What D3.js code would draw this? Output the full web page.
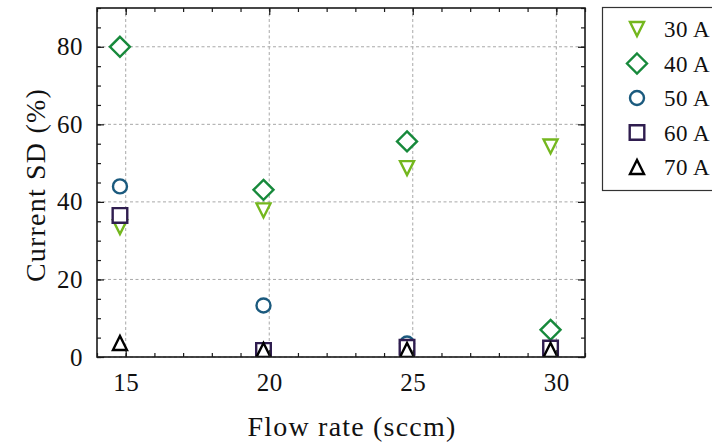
<!DOCTYPE html>
<html><head><meta charset="utf-8">
<script src="https://cdn.jsdelivr.net/npm/d3@7"></script>
<style>
html,body{margin:0;padding:0;background:#fff;}
text{font-family:"Liberation Serif","Times New Roman",serif;}
</style>
</head><body>
<svg id="chart" width="712" height="443"></svg>
<script>
const flowRates = [14.8, 19.8, 24.8, 29.8];
const seriesNames = ["30 A", "40 A", "50 A", "60 A", "70 A"];
const sd30A = [33.5, 37.8, 48.7, 54.3];
const sd40A = [80.0, 43.1, 55.6, 7.0];
const sd50A = [44.0, 13.3, 3.5, 2.0];
const sd60A = [36.5, 1.7, 2.5, 2.3];
const sd70A = [3.6, 1.8, 1.8, 1.8];
const xTicks = [15, 20, 25, 30];
const yTicks = [0, 20, 40, 60, 80];

const seriesValues = [sd30A, sd40A, sd50A, sd60A, sd70A];
const colors = ["#74b71e", "#17893b", "#1b5a7e", "#2f1d4f", "#000000"];
const shapes = ["tridown", "diamond", "circle", "square", "triup"];

const m = {left: 97, top: 8, right: 585, bottom: 357};
const svg = d3.select("#chart");

const x = d3.scaleLinear().domain([14, 31]).range([m.left, m.right]);
const y = d3.scaleLinear().domain([0, 90]).range([m.bottom, m.top]);

const symbolTypes = {
  tridown: {draw(c, s){ const r = s; c.moveTo(-r, -r); c.lineTo(r, -r); c.lineTo(0, r); c.closePath(); }},
  triup: {draw(c, s){ const r = s; c.moveTo(-r, r); c.lineTo(r, r); c.lineTo(0, -r); c.closePath(); }},
  diamond: {draw(c, s){ const r = s; c.moveTo(0, -r); c.lineTo(r, 0); c.lineTo(0, r); c.lineTo(-r, 0); c.closePath(); }},
  square: {draw(c, s){ const r = s; c.rect(-r, -r, 2*r, 2*r); }},
  circle: {draw(c, s){ const r = s; c.moveTo(r, 0); c.arc(0, 0, r, 0, 2*Math.PI); }}
};
const symSize = {tridown: 7, triup: 7, diamond: 10, square: 7.3, circle: 7};

const grid = svg.append("g").attr("stroke", "#a8a8a8").attr("stroke-width", 1).attr("stroke-dasharray", "3,2.5");
grid.selectAll(".gx").data(xTicks).enter().append("line")
  .attr("x1", d => x(d)).attr("x2", d => x(d)).attr("y1", m.top).attr("y2", m.bottom);
grid.selectAll(".gy").data(yTicks).enter().append("line")
  .attr("x1", m.left).attr("x2", m.right).attr("y1", d => y(d)).attr("y2", d => y(d));

svg.append("clipPath").attr("id", "clip").append("rect")
  .attr("x", m.left).attr("y", m.top).attr("width", m.right - m.left).attr("height", m.bottom - m.top);

const pts = svg.append("g").attr("clip-path", "url(#clip)");
seriesValues.forEach((vals, i) => {
  const sym = d3.symbol().type(symbolTypes[shapes[i]]).size(symSize[shapes[i]]);
  pts.append("g").selectAll("path").data(vals.map((v, j) => [flowRates[j], v])).enter()
    .append("path")
    .attr("d", sym)
    .attr("transform", d => `translate(${x(d[0])},${y(d[1])})`)
    .attr("fill", "#fff").attr("stroke", colors[i]).attr("stroke-width", 2.4);
});

const axColor = "#1a1a1a";
const minorX = d3.range(14, 32, 1);
const minorY = d3.range(0, 91, 5);
function addAxis(axisGen, tx, ty, scale, majors, minors, labels) {
  const gMinor = svg.append("g").attr("transform", `translate(${tx},${ty})`)
    .call(axisGen(scale).tickValues(minors).tickSize(-4).tickFormat(""));
  const gMajor = svg.append("g").attr("transform", `translate(${tx},${ty})`)
    .call(axisGen(scale).tickValues(majors).tickSize(-7).tickPadding(labels ? 14 : 0).tickFormat(labels ? d3.format("d") : ""));
  [gMinor, gMajor].forEach(g => {
    g.select(".domain").remove();
    g.selectAll("line").attr("stroke", axColor).attr("stroke-width", 1.2);
  });
  gMajor.selectAll("text").attr("font-size", 25).attr("fill", "#111")
    .attr("letter-spacing", 0.5)
    .style("font-family", "Liberation Serif, serif");
  return gMajor;
}
const gxB = addAxis(d3.axisBottom, 0, m.bottom, x, xTicks, minorX, true);
gxB.selectAll("text").attr("dy", "0.71em").attr("y", 16);
addAxis(d3.axisTop, 0, m.top, x, xTicks, minorX, false);
const gyL = addAxis(d3.axisLeft, m.left, 0, y, yTicks, minorY, true);
gyL.selectAll("text").attr("x", -14);
addAxis(d3.axisRight, m.right, 0, y, yTicks, minorY, false);

svg.append("rect").attr("x", m.left).attr("y", m.top)
  .attr("width", m.right - m.left).attr("height", m.bottom - m.top)
  .attr("fill", "none").attr("stroke", axColor).attr("stroke-width", 1.6);

svg.append("text").attr("x", 352).attr("y", 436)
  .attr("text-anchor", "middle").attr("font-size", 28).attr("letter-spacing", 1.2).attr("fill", "#111")
  .text("Flow rate (sccm)");
svg.append("text").attr("transform", `translate(45,185) rotate(-90)`)
  .attr("text-anchor", "middle").attr("font-size", 28).attr("letter-spacing", 1.2).attr("fill", "#111")
  .text("Current SD (%)");

const lg = svg.append("g");
lg.append("rect").attr("x", 602.5).attr("y", 7.5).attr("width", 130).attr("height", 183)
  .attr("fill", "#fff").attr("stroke", "#333").attr("stroke-width", 1.2);
seriesNames.forEach((name, i) => {
  const cy = 29 + i * 34.5;
  const sym = d3.symbol().type(symbolTypes[shapes[i]]).size(symSize[shapes[i]]);
  lg.append("path").attr("d", sym).attr("transform", `translate(637,${cy})`)
    .attr("fill", "#fff").attr("stroke", colors[i]).attr("stroke-width", 2.4);
  lg.append("text").attr("x", 664).attr("y", cy).attr("dy", "0.35em")
    .attr("font-size", 23).attr("letter-spacing", 0.5).attr("fill", "#111").text(name);
});
</script>
</body></html>
